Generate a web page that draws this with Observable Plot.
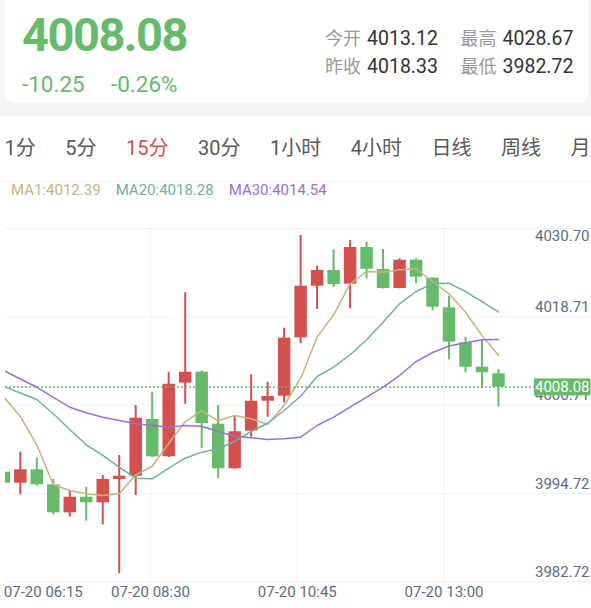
<!DOCTYPE html>
<html><head><meta charset="utf-8">
<script src="https://cdn.jsdelivr.net/npm/d3@7"></script>
<script src="https://cdn.jsdelivr.net/npm/@observablehq/plot@0.6"></script>
<style>
html,body{margin:0;padding:0;background:#fff;}
body{width:591px;height:608px;position:relative;overflow:hidden;font-family:Roboto,"Noto Sans CJK SC",sans-serif;}
#head{position:absolute;left:0;top:0;}
#chart{position:absolute;left:0;top:205px;}
</style></head><body>
<svg id="head" width="591" height="205"></svg>
<div id="chart"></div>
<script>
// ---------- data ----------
const lastPrice = "4008.08";
const change = "-10.25";
const changePct = "-0.26%";
const statLabels = ["今开", "最高", "昨收", "最低"];
const statValues = ["4013.12", "4028.67", "4018.33", "3982.72"];
const tabs = ["1分", "5分", "15分", "30分", "1小时", "4小时", "日线", "周线", "月"];
const activeTab = 2;
const maNames = ["MA1", "MA20", "MA30"];
const maLast = ["4012.39", "4018.28", "4014.54"];

const open  = [3996.52, 3995.02, 3996.84, 3994.81, 3991.00, 3993.12, 3992.36, 3995.53, 3995.97, 4003.68, 3998.61, 4008.61, 4010.10, 4003.04, 3996.98, 4002.09, 4006.16, 4006.84, 4014.77, 4021.78, 4023.92, 4022.05, 4027.04, 4024.05, 4021.47, 4025.31, 4022.87, 4018.85, 4014.09, 4010.78, 4009.88];
const high  = [3997.00, 3999.24, 3998.42, 3995.53, 3993.90, 3994.48, 3996.07, 3998.79, 4005.58, 4007.38, 4010.10, 4020.89, 4010.29, 4005.58, 4004.22, 4009.75, 4008.74, 4016.08, 4028.67, 4024.50, 4026.77, 4027.99, 4027.76, 4026.77, 4025.51, 4025.51, 4022.90, 4020.42, 4014.86, 4014.41, 4010.43];
const low   = [3994.70, 3993.45, 3994.62, 3990.73, 3990.41, 3989.86, 3989.37, 3982.72, 3993.35, 3998.50, 3998.50, 4005.75, 3999.70, 3995.62, 3996.90, 4001.27, 4003.99, 4005.95, 4013.96, 4018.62, 4021.65, 4018.71, 4022.79, 4021.40, 4021.43, 4022.11, 4018.44, 4011.79, 4010.02, 4007.98, 4005.35];
const close = [3995.02, 3996.84, 3994.81, 3991.00, 3993.12, 3992.36, 3995.53, 3995.97, 4003.85, 3998.61, 4008.47, 4010.10, 4003.13, 3996.98, 4002.01, 4006.16, 4006.80, 4014.72, 4021.78, 4023.92, 4022.01, 4027.04, 4024.09, 4021.47, 4025.31, 4023.01, 4018.93, 4014.18, 4010.78, 4010.02, 4008.08];

const ma1  = [4006.76, 4004.08, 4000.24, 3994.81, 3994.03, 3993.58, 3993.35, 3993.58, 3996.16, 3997.33, 4000.42, 4003.40, 4004.86, 4003.50, 4004.22, 4003.77, 4003.04, 4005.58, 4009.25, 4014.86, 4017.90, 4022.11, 4023.78, 4023.68, 4024.01, 4024.15, 4022.42, 4020.75, 4018.25, 4015.09, 4012.39];
const ma20 = [4008.16, 4007.28, 4006.39, 4004.45, 4002.32, 4000.24, 3998.79, 3997.20, 3995.70, 3995.62, 3997.06, 3998.42, 3999.24, 3999.70, 4000.69, 4002.05, 4003.17, 4004.90, 4006.84, 4009.52, 4010.78, 4012.47, 4014.50, 4016.89, 4019.39, 4021.06, 4022.11, 4022.19, 4021.06, 4019.70, 4018.28];
const ma30 = [4010.33, 4009.18, 4008.06, 4006.67, 4005.35, 4004.59, 4003.99, 4003.54, 4003.09, 4002.86, 4002.63, 4002.86, 4002.77, 4002.05, 4001.41, 4001.19, 4000.96, 4001.05, 4001.27, 4002.86, 4003.99, 4005.35, 4006.71, 4008.06, 4009.65, 4011.55, 4012.78, 4013.66, 4014.09, 4014.50, 4014.54];

const yTicks = [3982.72, 3994.72, 4006.71, 4018.71, 4030.70];
const xTickPos = [0, 8.9, 17.8, 26.7];
const xTickLabels = ["07-20 06:15", "07-20 08:30", "07-20 10:45", "07-20 13:00"];

// ---------- style ----------
const GREEN = "#66bb6a", RED = "#d4504f";
const MA_COLORS = ["#c9b27c", "#6db1a5", "#9a6fd3"];
const AXIS = "#5d6b80", GRID = "#f1f1f1";

// ---------- header ----------
const head = d3.select("#head");
head.append("rect").attr("width", 591).attr("height", 116).attr("fill", "#f5f5f5");
head.append("rect").attr("x", 4.5).attr("y", -12).attr("width", 583.5).attr("height", 115).attr("rx", 10).attr("fill", "#fff");
head.append("rect").attr("x", 0).attr("y", 116).attr("width", 591).attr("height", 89).attr("fill", "#fff");
head.append("text").attr("x", 22).attr("y", 51).attr("font-size", 47).attr("font-weight", 700)
  .attr("letter-spacing", -1.5).attr("fill", GREEN).text(lastPrice);
head.append("text").attr("x", 22).attr("y", 92).attr("font-size", 22.5).attr("fill", GREEN).text(change);
head.append("text").attr("x", 111).attr("y", 92).attr("font-size", 22.5).attr("fill", GREEN).text(changePct);
const statX = [[325, 367], [460.5, 502.5]];
statLabels.forEach((lab, k) => {
  const col = k % 2, row = Math.floor(k / 2);
  const by = row === 0 ? 44.5 : 72.5;
  head.append("text").attr("x", statX[col][0]).attr("y", by).attr("font-size", 18).attr("fill", "#999").text(lab);
  head.append("text").attr("x", statX[col][1]).attr("y", by).attr("font-size", 19.5).attr("fill", "#333").text(statValues[k]);
});
let tx = 4.5;
tabs.forEach((t, k) => {
  const el = head.append("text").attr("x", tx).attr("y", 155).attr("font-size", 20)
    .attr("fill", k === activeTab ? RED : "#585858").text(t);
  tx += el.node().getComputedTextLength() + 29.5;
});
head.append("line").attr("x1", 0).attr("x2", 591).attr("y1", 181.5).attr("y2", 181.5).attr("stroke", "#f0f0f0");
let mx = 11;
maNames.forEach((n, k) => {
  const el = head.append("text").attr("x", mx).attr("y", 195).attr("font-size", 15)
    .attr("fill", MA_COLORS[k]).text(n + ":" + maLast[k]);
  mx += el.node().getComputedTextLength() + 15;
});

// ---------- chart ----------
const candles = open.map((o, i) => ({i, open: o, high: high[i], low: low[i], close: close[i], up: close[i] >= o}));
const maSeries = [ma1, ma20, ma30];
const lastClose = close[close.length - 1];
const topTick = d3.max(yTicks), botTick = d3.min(yTicks);
const priceText = lastClose.toFixed(2);

const chart = Plot.plot({
  width: 591,
  height: 403,
  marginLeft: 5,
  marginRight: 0,
  marginTop: 0,
  marginBottom: 20,
  style: {fontFamily: "Roboto, 'Noto Sans CJK SC', sans-serif", background: "transparent", overflow: "visible"},
  x: {domain: [0.103, 35.64], axis: null},
  y: {domain: [3980.72, 4032.745], axis: null},
  marks: [
    Plot.ruleY(yTicks, {y: d => d, dy: 8, stroke: GRID, strokeWidth: 1}),
    Plot.ruleX(xTickPos.slice(1), {x: d => d, y1: topTick, y2: botTick, dy: 8, stroke: GRID, strokeWidth: 1}),
    Plot.ruleX(candles, {x: "i", y1: "low", y2: "high", stroke: d => d.up ? RED : GREEN, strokeWidth: 2, clip: true}),
    Plot.ruleX(candles, {x: "i", y1: "open", y2: "close", stroke: d => d.up ? RED : GREEN, strokeWidth: 12.5, clip: true}),
    ...maSeries.map((s, k) => Plot.line(s, {x: (d, i) => i, y: d => d, stroke: MA_COLORS[k], strokeWidth: 1.5, clip: true})),
    Plot.ruleY([lastClose], {y: d => d, stroke: GREEN, strokeWidth: 1.5, strokeDasharray: "2,2"}),
    Plot.text(yTicks.filter(d => d !== topTick), {y: d => d, text: d => d.toFixed(2), frameAnchor: "right", textAnchor: "end", dx: -2, dy: -1.5, fontSize: 15, fill: AXIS}),
    Plot.text([topTick], {y: d => d, text: d => d.toFixed(2), frameAnchor: "right", textAnchor: "end", dx: -2, dy: 16, fontSize: 15, fill: AXIS}),
    Plot.text([lastClose], {y: d => d, text: d => d.toFixed(2), frameAnchor: "right", textAnchor: "end", dx: -2, fontSize: 15, fill: "white"}),
    Plot.text(xTickPos.slice(0, 1), {x: d => d, text: (d, i) => xTickLabels[i], frameAnchor: "bottom", textAnchor: "start", dy: 8, fontSize: 15, fill: AXIS}),
    Plot.text(xTickPos.slice(1), {x: d => d, text: (d, i) => xTickLabels[i + 1], frameAnchor: "bottom", textAnchor: "middle", dy: 8, fontSize: 15, fill: AXIS})
  ]
});
document.getElementById("chart").appendChild(chart);

// background box behind the current price label
const node = Array.from(chart.querySelectorAll("text")).find(t => {
  const f = t.getAttribute("fill") || (t.parentNode && t.parentNode.getAttribute("fill"));
  return t.textContent === priceText && f === "white";
});
if (node) {
  const bb = node.getBBox();
  const r = document.createElementNS("http://www.w3.org/2000/svg", "rect");
  const t = node.getAttribute("transform");
  if (t) r.setAttribute("transform", t);
  r.setAttribute("x", bb.x - 1);
  r.setAttribute("y", bb.y + 0.5);
  r.setAttribute("width", bb.width + 2);
  r.setAttribute("height", bb.height - 1);
  r.setAttribute("fill", GREEN);
  node.parentNode.insertBefore(r, node);
}
</script>
</body></html>
